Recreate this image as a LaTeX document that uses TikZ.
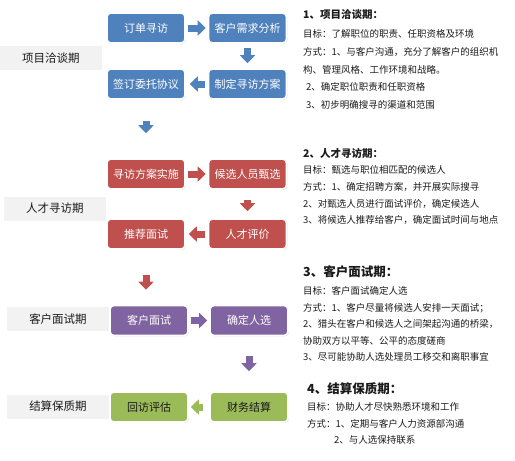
\documentclass[tikz,border=0pt]{standalone}
\usepackage{fontspec}
\setmainfont{Noto Sans CJK SC}
\usepackage{tikz}
\usetikzlibrary{arrows.meta,shadows}

\definecolor{qblue}{HTML}{4F81BD}
\definecolor{qred}{HTML}{C0504D}
\definecolor{qpurple}{HTML}{8064A2}
\definecolor{qgreen}{HTML}{9BBB59}
\definecolor{labgray}{HTML}{F2F2F2}
\definecolor{txt}{HTML}{1A1A1A}

\begin{document}
\begin{tikzpicture}[x=1pt,y=-1pt,
	box/.style={draw=white,line width=1.6pt,rounded corners=4pt,minimum width=78pt,minimum height=30pt,inner sep=1pt,font=\fontsize{11}{13}\selectfont,text=white,drop shadow={shadow xshift=0.8pt,shadow yshift=-0.9pt,opacity=0.35}},
	phase/.style={fill=labgray,minimum width=102pt,minimum height=24pt,inner sep=0pt,font=\fontsize{11.5}{13}\selectfont,text=txt},
	fat/.style={line width=7pt,-{Triangle[width=15pt,length=8pt]}},
	head/.style={anchor=west,inner sep=0pt,text=txt,font=\bfseries\fontsize{10.5}{12}\selectfont},
	body/.style={anchor=north west,align=left,inner sep=0pt,text=txt}]
		\useasboundingbox (0,0) rectangle (515,461);
		% phase labels
		\node (P1) [phase] at (51,58) {项目洽谈期};
		\node (P2) [phase] at (55,208.5) {人才寻访期};
		\node (P3) [phase] at (58,319) {客户面试期};
		\node (P4) [phase] at (58,406.5) {结算保质期};
		% stage 1
		\node (o1) [box,fill=qblue] at (146,28) {订单寻访};
		\node (o2) [box,fill=qblue,node distance=101.5pt,right of=o1] {客户需求分析};
		\node (o3) [box,fill=qblue,node distance=56pt,below of=o2] {制定寻访方案};
		\node (o4) [box,fill=qblue,node distance=101.5pt,left of=o3] {签订委托协议};
		% stage 2
		\node (r1) [box,fill=qred] at (146,174) {寻访方案实施};
		\node (r2) [box,fill=qred,node distance=101.5pt,right of=r1] {候选人员甄选};
		\node (r3) [box,fill=qred,node distance=60pt,below of=r2] {人才评价};
		\node (r4) [box,fill=qred,node distance=101.5pt,left of=r3] {推荐面试};
		% stage 3
		\node (p1) [box,fill=qpurple] at (149,320.5) {客户面试};
		\node (p2) [box,fill=qpurple,node distance=100pt,right of=p1] {确定人选};
		% stage 4
		\node (g1) [box,fill=qgreen,text=txt,node distance=86.5pt,below of=p2] {财务结算};
		\node (g2) [box,fill=qgreen,text=txt,node distance=100pt,left of=g1] {回访评估};
		% arrows
		\draw[fat,qblue,shorten <=2pt,shorten >=2pt] (o1) -- (o2);
		\draw[fat,qblue,shorten <=4pt,shorten >=5pt] (o2) -- (o3);
		\draw[fat,qblue,shorten <=3pt,shorten >=4pt] (o3) -- (o4);
		\draw[fat,qblue,shorten <=21pt,shorten >=25pt] (o4.south) -- (o4.south |- r1.north);
		\draw[fat,qred,shorten <=2pt,shorten >=2pt] (r1) -- (r2);
		\draw[fat,qred,shorten <=10pt,shorten >=7pt] (r2) -- (r3);
		\draw[fat,qred,shorten <=3pt,shorten >=3pt] (r3) -- (r4);
		\draw[fat,qred,shorten <=25pt,shorten >=15pt] (r4.south) -- (r4.south |- p1.north);
		\draw[fat,qpurple,shorten <=2pt,shorten >=2pt] (p1) -- (p2);
		\draw[fat,qpurple,shorten <=20pt,shorten >=20pt] (p2.south) -- (p2.south |- g1.north);
		\draw[fat,qgreen,shorten <=6pt,shorten >=2pt] (g1) -- (g2);
		% notes
		\node (h1) [head] at (303,15) {1、项目洽谈期：};
		\node (t1) [body,font=\fontsize{9.5}{17.7}\selectfont] at (303,29.5) {目标：了解职位的职责、任职资格及环境\\
			方式：1、与客户沟通，充分了解客户的组织机\\
			构、管理风格、工作环境和战略。\\
			\hspace{3pt}2、确定职位职责和任职资格\\
			\hspace{3pt}3、初步明确搜寻的渠道和范围};
		\node (h2) [head] at (303,153) {2、人才寻访期：};
		\node (t2) [body,font=\fontsize{9.5}{16.7}\selectfont] at (303,165.5) {目标：甄选与职位相匹配的候选人\\
			方式：1、确定招聘方案，并开展实际搜寻\\
			2、对甄选人员进行面试评价，确定候选人\\
			3、将候选人推荐给客户，确定面试时间与地点};
		\node (h3) [head,font=\bfseries\fontsize{12.5}{14}\selectfont] at (303,272) {3、客户面试期：};
		\node (t3) [body,font=\fontsize{9.5}{16.5}\selectfont] at (303,286.5) {目标：客户面试确定人选\\
			方式：1、客户尽量将候选人安排一天面试；\\
			2、猎头在客户和候选人之间架起沟通的桥梁，\\
			协助双方以平等、公平的态度磋商\\
			3、尽可能协助人选处理员工移交和离职事宜};
		\node (h4) [head,font=\bfseries\fontsize{12.5}{14}\selectfont] at (307,389) {4、结算保质期：};
		\node (t4) [body,font=\fontsize{9.5}{16.5}\selectfont] at (307,402.5) {目标：协助人才尽快熟悉环境和工作\\
			方式：1、定期与客户人力资源部沟通\\
			\hspace{27pt}2、与人选保持联系};
\end{tikzpicture}
\end{document}
